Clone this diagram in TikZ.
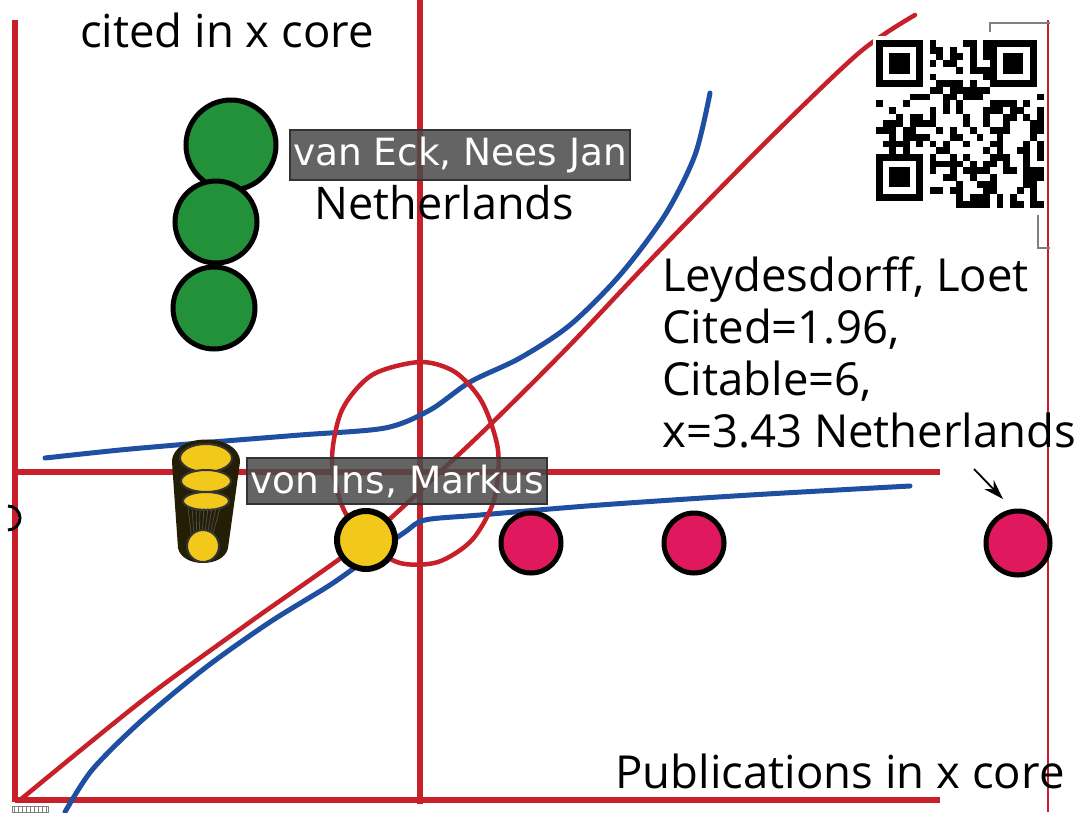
\documentclass[tikz,border=0pt]{standalone}
\usepackage{fontspec}
\setmainfont{Open Sans}
\newfontfamily\boxfont{DejaVu Sans}
\usetikzlibrary{arrows.meta}
\definecolor{axred}{HTML}{C8202A}
\definecolor{curveblue}{HTML}{1F4FA0}
\definecolor{dotgreen}{HTML}{22913A}
\definecolor{dotyellow}{HTML}{F2C81A}
\definecolor{dotpink}{HTML}{E0195F}
\definecolor{labelgray}{HTML}{4A4A4A}
\tikzset{
  axis/.style={draw=axred,line width=5.5pt},
  thinaxis/.style={draw=axred,line width=2pt},
  curve/.style={draw=curveblue,line width=5pt,line cap=round},
  redcurve/.style={draw=axred,line width=4.5pt,line cap=round},
  dot/.style={circle,draw=black,line width=5pt,inner sep=0pt},
  namebox/.style={fill=labelgray,fill opacity=0.85,text opacity=1,draw=black!80,line width=2pt,text=white,font=\boxfont\fontsize{37.5}{40}\selectfont,inner xsep=3pt,inner ysep=7pt,anchor=west},
  bigtext/.style={font=\fontsize{45.5}{52}\selectfont,text=black},
}
\begin{document}
\begin{tikzpicture}[x=1pt,y=-1pt]
\useasboundingbox (0,0) rectangle (1089,812);
\fill[white] (0,0) rectangle (1089,812);
% axes
\draw[axis] (15,20) -- (15,802);
\draw[axis] (15,800) -- (940,800);
\draw[axis] (420,0) -- (420,804);
\draw[axis] (15,472) -- (940,472);
\draw[thinaxis] (1048,20) -- (1048,812);
% frame bits
\draw[gray,line width=1.5pt] (990,32) -- (990,23) -- (1050,23);
\draw[gray,line width=1.5pt] (1038,215) -- (1038,248) -- (1050,248);
% red diagonal
\draw[redcurve] plot[smooth] coordinates {(20,800) (143,700) (250,622) (365,540) (440,472) (495,420) (570,345) (660,250) (770,138) (860,52) (915,15)};
% blue curves
\draw[curve] plot[smooth] coordinates {(45,458) (120,450) (200,443) (300,435) (385,428) (430,410) (470,382) (520,358) (570,325) (620,275) (665,215) (695,155) (710,93)};
\draw[curve] plot[smooth] coordinates {(65,812) (92,770) (140,722) (205,668) (270,622) (330,585) (368,558) (405,532) (425,520) (480,515) (600,505) (750,495) (910,486)};
% red loop
\draw[redcurve] plot[smooth cycle] coordinates {(420,362) (455,372) (482,402) (498,450) (494,500) (472,540) (438,562) (400,563) (368,543) (343,508) (332,460) (342,410) (372,375)};
% green dots
\node[dot,fill=dotgreen,minimum size=90pt] (g1) at (231,145) {};
\node[dot,fill=dotgreen,minimum size=82pt] (g2) at (216,222) {};
\node[dot,fill=dotgreen,minimum size=82pt] (g3) at (214,308) {};
% yellow cluster
\fill[black!85!dotyellow] (172,462) .. controls (172,432) and (240,432) .. (240,462) -- (228,548) .. controls (224,568) and (182,568) .. (178,548) -- cycle;
\fill[dotyellow,draw=black!80,line width=2pt] (206,458) ellipse (26pt and 14pt);
\fill[dotyellow,draw=black!80,line width=2pt] (206,481) ellipse (25pt and 11pt);
\fill[dotyellow,draw=black!80,line width=2pt] (206,501) ellipse (23pt and 9pt);
\foreach \i in {0,...,8}{\draw[black!70,line width=0.8pt] (188+\i*4,508) -- (192+\i*2.4,540);}
\node[circle,fill=dotyellow,draw=black!80,line width=2pt,minimum size=32pt,inner sep=0pt] (y1) at (203,546) {};
\node[dot,fill=dotyellow,minimum size=58pt,line width=6pt] (y2) at (366,540) {};
% pink dots
\node[dot,fill=dotpink,minimum size=60pt] (p1) at (531,543) {};
\node[dot,fill=dotpink,minimum size=60pt] (p2) at (694,543) {};
\node[dot,fill=dotpink,minimum size=64pt] (p3) at (1018,543) {};
\draw[black,line width=3pt] (8,530) arc[start angle=90,end angle=-90,radius=12];
% labels
\node[namebox] (eck) at (289,155) {van Eck, Nees Jan};
\node[bigtext,font=\fontsize{45}{48}\selectfont] (nl) at (444,203) {Netherlands};
\node[namebox] (ins) at (246,481) {von Ins, Markus};
\node[bigtext] (title) at (227,30) {cited in x core};
\node[bigtext] (xlab) at (840,771) {Publications in x core};
\node[bigtext,align=left,anchor=north west,inner sep=0pt] (ley) at (662,256) {Leydesdorff, Loet\\Cited=1.96,\\Citable=6,\\x=3.43 Netherlands};
\coordinate (arrstart) at (974,469);
\draw[-{Stealth[length=20pt,width=13pt]},line width=1.8pt] (arrstart) -- (1003,499);
% hatch mark bottom-left
\draw[gray,line width=1pt] (12,806) rectangle (48,812);
\foreach \i in {0,...,8}{\draw[gray,line width=0.6pt] (14+\i*4,806) -- (14+\i*4,812);}
% QR code
\fill[white] (873,36) rectangle (1046,208);
\begin{scope}[shift={(876,40)}]
\pgfmathsetseed{4711}
\foreach \r in {0,...,24}{
  \foreach \c in {0,...,24}{
    \pgfmathsetmacro{\v}{rnd}
    \pgfmathparse{(\r<8 && \c<8) || (\r<8 && \c>16) || (\r>16 && \c<8) ? 0 : (\v<0.5 ? 1 : 0)}
    \ifnum\pgfmathresult=1
      \fill[black] (\c*6.7,\r*6.7) rectangle ++(6.8,6.8);
    \fi
  }
}
\foreach \ox/\oy in {0/0,113.9/0,0/113.9}{
  \fill[black] (\ox,\oy) rectangle ++(46.9,46.9);
  \fill[white] (\ox+6.7,\oy+6.7) rectangle ++(33.5,33.5);
  \fill[black] (\ox+13.4,\oy+13.4) rectangle ++(20.1,20.1);
}
\end{scope}
\end{tikzpicture}
\end{document}
